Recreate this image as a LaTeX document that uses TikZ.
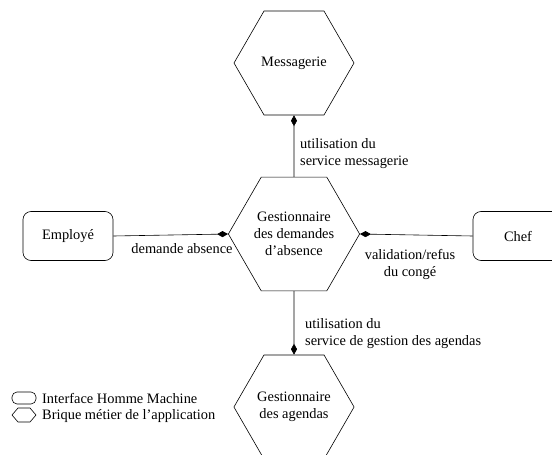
\documentclass[tikz,border=0pt]{standalone}
\usepackage{fontspec}
\setmainfont{Liberation Serif}
\usetikzlibrary{shapes.geometric,arrows.meta}
\tikzset{
  hexa/.style={draw,regular polygon,regular polygon sides=6,minimum size=120pt,inner sep=0pt,align=center,line width=0.6pt},
  ihm/.style={draw,rounded corners=8pt,minimum width=90pt,minimum height=49pt,inner sep=0pt,line width=0.6pt},
  conn/.style={line width=0.6pt,-{Diamond[length=11pt,width=6pt]}},
  lbl/.style={inner sep=0pt},
}
\begin{document}
\begin{tikzpicture}[x=1pt,y=-1pt,font=\fontsize{14.4}{17}\selectfont]
\useasboundingbox (0,0) rectangle (552,455);
% main elements
\node[hexa] (mess) at (294,63) {Messagerie};
\node[hexa] (gest) at (294,234) {Gestionnaire\\des demandes\\d’absence};
\node[hexa] (agenda) at (294,407) {Gestionnaire\\des agendas};
\node[ihm] (emp) at (68,236) {Employé};
\node[ihm] (chef) at (518,236) {Chef};
% connectors
\draw[conn] (gest.north) -- (mess.south);
\draw[conn] (emp.east) -- (gest.west);
\draw[conn] (chef.west) -- (gest.east);
\draw[conn] (gest.south) -- (agenda.north);
% labels
\node[lbl,anchor=west,align=left] (l1) at (300,153.5) {utilisation du\\service messagerie};
\node[lbl,anchor=west,align=left] (l2) at (305,333.5) {utilisation du\\service de gestion des agendas};
\node[lbl] (l3) at (182,249) {demande absence};
\node[lbl,align=center] (l4) at (410,264) {validation/refus\\du congé};
% legend
\node[draw,rounded corners=5pt,minimum width=24pt,minimum height=12pt,inner sep=0pt,line width=0.6pt] (leg1) at (24,398) {};
\node[lbl,anchor=west] (leg1t) at (42,398.5) {Interface Homme Machine};
\draw[line width=0.6pt] (12,415) -- (18,408) -- (30,408) -- (36,415) -- (30,422) -- (18,422) -- cycle;
\node[lbl,anchor=west] (leg2t) at (42,416) {Brique métier de l’application};
\end{tikzpicture}
\end{document}
